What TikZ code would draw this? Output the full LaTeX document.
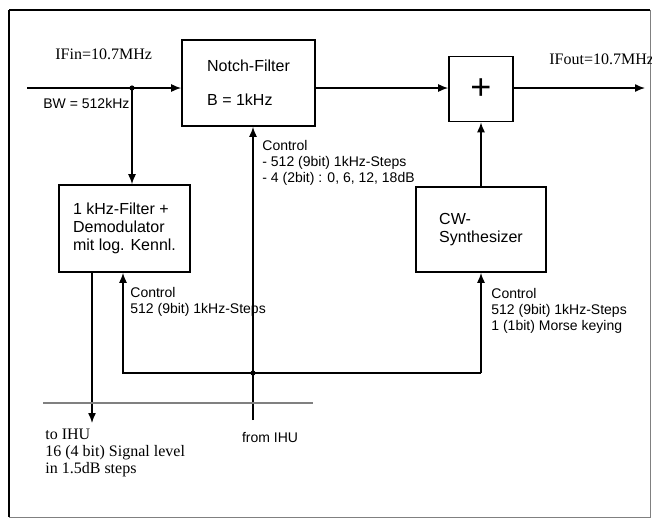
\documentclass[tikz,border=0pt]{standalone}
\usepackage{fontspec}
\setmainfont{Liberation Serif}
\setsansfont{Liberation Sans}
\usepackage{tikz}
\usetikzlibrary{arrows.meta,positioning,calc}

\begin{document}
\begin{tikzpicture}[
  x=0.5pt,y=-0.5pt,
  font=\sffamily\fontsize{8}{9}\selectfont,
  box/.style={draw,line width=0.8pt,align=left,inner sep=0pt},
  arr/.style={-{Latex[length=5pt,width=4pt]},line width=0.7pt},
  wire/.style={line width=0.7pt},
  ctrl/.style={font=\sffamily\fontsize{7}{8}\selectfont,align=left,inner sep=0pt},
  serif/.style={font=\rmfamily\fontsize{8}{8.5}\selectfont,align=left,inner sep=0pt}]
\useasboundingbox (0,0) rectangle (652,527);
\draw[line width=1.2pt] (9,10) -- (650,10);
\draw[line width=1.2pt] (9,10) -- (9,517);
\draw[line width=0.5pt,gray] (9,517) -- (650,517) -- (650,10);
% blocks
\node[box,minimum width=66.5pt,minimum height=43pt] (notch) at (248.5,83)
  {Notch-Filter\\[8pt]B = 1kHz};
\node[box,minimum width=32pt,minimum height=32.5pt,font=\sffamily\fontsize{18}{18}\selectfont] (sum) at (481,89) {+};
\node[box,minimum width=65.5pt,minimum height=43.5pt] (filt) at (124.5,228.5)
  {1 kHz-Filter +\\Demodulator\\mit log. Kennl.};
\node[box,minimum width=65pt,minimum height=42.5pt] (cw) at (481,229.5)
  {CW-\\Synthesizer};
% points on the wires
\coordinate (in) at (27,88);
\coordinate (split) at (132,88);
\coordinate (out) at (645,88);
\coordinate (ctl) at (253,373);
\coordinate (ihu) at (253,420);
\coordinate (lvl) at (92,423);
\coordinate (loopL) at (123,373);
\coordinate (loopR) at (481,373);
% signal path
\draw[wire] (in) -- (split);
\draw[arr] (split) -- (notch.west |- split);
\draw[arr] (split) -- (filt.north -| split);
\draw[arr] (notch.east |- split) -- (sum.west |- split);
\draw[arr] (sum.east |- split) -- (out);
\draw[arr] (cw.north) -- (sum.south);
\draw[arr] (filt.south -| lvl) -- (lvl);
% control bus
\draw[arr] (ihu) -- (ctl) -- (notch.south -| ctl);
\draw[arr] (loopR) -- (loopL) -- (filt.south -| loopL);
\draw[arr] (loopR) -- (cw.south -| loopR);
\fill (split) circle (1.3pt);
\fill (ctl) circle (1.3pt);
\draw[gray,line width=0.6pt] (43,403) -- (313,403);
% labels
\node[serif,anchor=west] (ifin) at (55,54) {IFin=10.7MHz};
\node[ctrl,anchor=west] (bw) at (43,103) {BW = 512kHz};
\node[serif,anchor=west] (ifout) at (549,59) {IFout=10.7MHz};
\node[ctrl,anchor=north west] (cnotch) at (262,140)
  {Control\\- 512 (9bit) 1kHz-Steps\\- 4 (2bit) : 0, 6, 12, 18dB};
\node[ctrl,anchor=north west] (cfilt) at (130,287)
  {Control\\512 (9bit) 1kHz-Steps};
\node[ctrl,anchor=north west] (ccw) at (491,288)
  {Control\\512 (9bit) 1kHz-Steps\\1 (1bit) Morse keying};
\node[serif,anchor=north west] (toihu) at (45,429)
  {to IHU\\16 (4 bit) Signal level\\in 1.5dB steps};
\node[ctrl] (fromihu) at (270,437) {from IHU};
\end{tikzpicture}
\end{document}
